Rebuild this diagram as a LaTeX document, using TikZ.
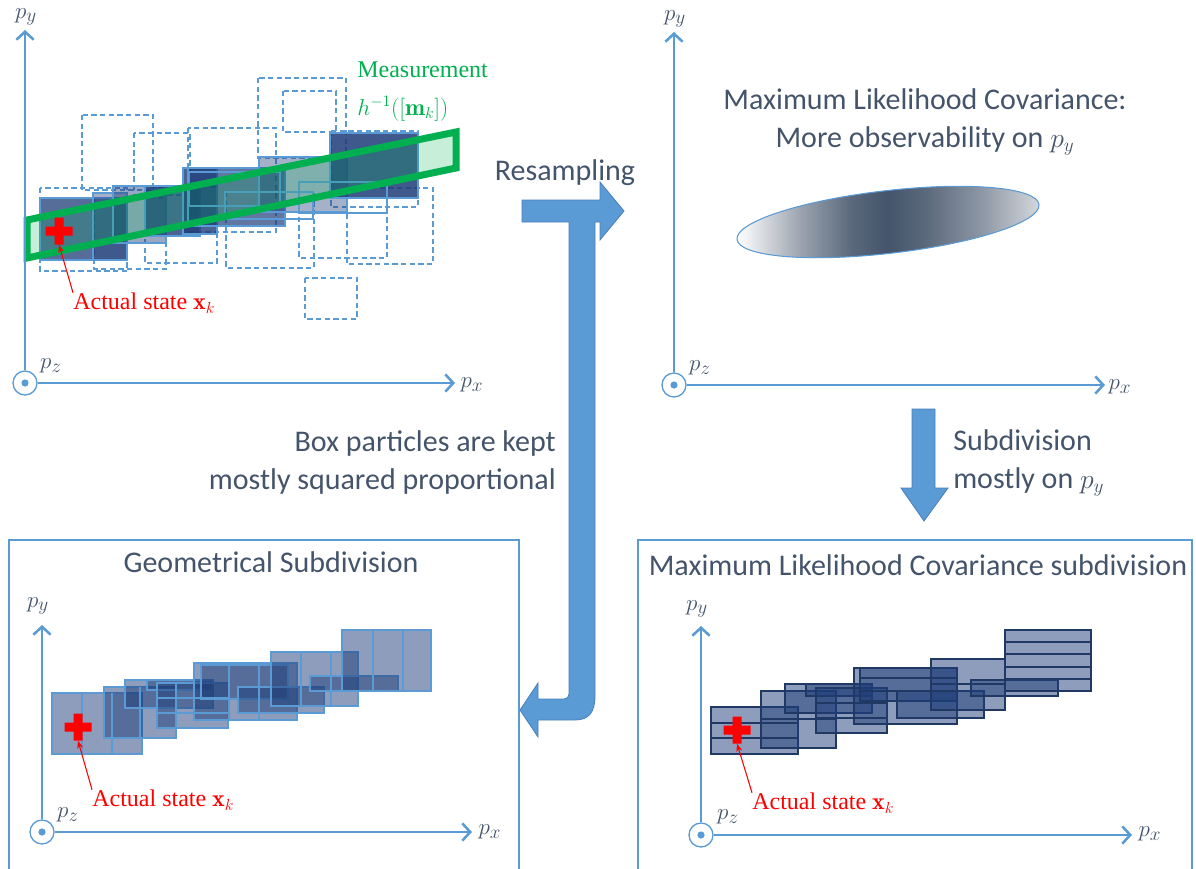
\documentclass[tikz,border=0pt]{standalone}
\usepackage{fontspec}
\setsansfont{Carlito}
\newfontfamily\serifl{Liberation Serif}
\usetikzlibrary{arrows.meta,calc,shapes.geometric}
\definecolor{axisblue}{HTML}{5B9BD5}
\definecolor{arrowedge}{HTML}{4A7EBB}
\definecolor{textgray}{HTML}{44546A}
\definecolor{navy}{RGB}{30,60,120}
\definecolor{boxedge}{RGB}{31,56,100}
\definecolor{mgreen}{HTML}{00B050}
\colorlet{shA}{textgray!8}
\colorlet{shB}{textgray!55}
\colorlet{shC}{textgray!88}
\colorlet{shD}{textgray!62}
\colorlet{shE}{textgray!22}
\pgfdeclarehorizontalshading{ellsh}{100bp}{color(0bp)=(white); color(25bp)=(white); color(27bp)=(shA);
  color(36bp)=(shB); color(44bp)=(shC); color(50bp)=(textgray); color(56bp)=(shC); color(65bp)=(shD);
  color(75bp)=(shE); color(100bp)=(shE)}
\begin{document}
\begin{tikzpicture}[x=0.75pt,y=-0.75pt,
  axis/.style={draw=axisblue,line width=1.9pt,-{Straight Barb[length=6pt,width=13pt]}},
  origin/.style={circle,draw=axisblue,line width=1pt,fill=white,minimum size=18pt,inner sep=0pt,
    path picture={\fill[axisblue] (path picture bounding box.center) circle (2.7pt);}},
  axlab/.style={text=textgray,font=\fontsize{19}{21}\selectfont,inner sep=0pt},
  title/.style={text=textgray,font=\sffamily\fontsize{22.5}{28.5}\selectfont,inner sep=0pt},
  redlab/.style={text=red,font=\serifl\fontsize{18}{20}\selectfont,inner sep=0pt,anchor=west},
  redarrow/.style={draw=red,line width=0.8pt,-{Stealth[length=6pt,width=4.5pt]}},
  crossnode/.style={minimum size=20pt,inner sep=0pt},
  frame/.style={draw=axisblue,line width=0.9pt},
  bigarrow/.style={fill=axisblue,draw=arrowedge,line width=0.6pt},
  dbox/.style={draw=axisblue,line width=0.9pt,dash pattern=on 4pt off 2.5pt},
  tlbox/.style={fill=navy,fill opacity=#1,draw=axisblue,line width=0.9pt},
  obox/.style={draw=axisblue,line width=0.9pt},
  blbox/.style={fill=navy,fill opacity=0.5,draw=axisblue,line width=1pt},
  blline/.style={draw=axisblue,line width=1pt},
  brbox/.style={fill=navy,fill opacity=0.5,draw=boxedge,line width=1.1pt},
  brline/.style={draw=boxedge,line width=1.1pt},
  band/.style={draw=mgreen,line width=5.25pt,fill=mgreen,fill opacity=0.22,line join=miter}
]
\useasboundingbox (0,0) rectangle (1196,868);

% ================= Top-left panel =================
\foreach \a/\b/\c/\d in {258/78/346/158, 283/91/336/132, 331/131/418/207, 347/188/433/264,
  299/182/387/258, 226/192/314/268, 305/278/357/319, 188/128/276/232, 82/115/153/190,
  134/133/190/195, 145/187/217/263, 40/188/127/271, 94/198/166/269}
  \draw[dbox] (\a,\b) rectangle (\c,\d);
\foreach \a/\b/\c/\d/\o in {40/198/127/260/0.75, 93/193/127/260/0.4, 113/186/166/243/0.45,
  145/186/200/236/0.8, 183/168/217/234/0.8, 188/168/285/226/0.7, 259/157/347/212/0.4,
  330/133/418/198/0.85}
  \draw[tlbox=\o] (\a,\b) rectangle (\c,\d);
\foreach \a/\b/\c/\d in {189/172/280/206, 225/192/313/219, 299/182/387/213}
  \draw[obox] (\a,\b) rectangle (\c,\d);
\draw[band] (27,220) -- (456,132) -- (456,168) -- (27,258) -- cycle;

\node[origin] (o1) at (25,383) {};
\coordinate (y1) at (25,30);
\coordinate (x1) at (455,383);
\draw[axis] (o1.north) -- (y1);
\draw[axis] (o1.east) -- (x1);
\node[axlab] (py1) at (26,17) {$p_y$};
\node[axlab] (pz1) at (51,366) {$p_z$};
\node[axlab] (px1) at (472,385) {$p_x$};

\node[crossnode] (c1) at (59,231) {};
\fill[red] (c1.center) ++(-13.5,-4.5) rectangle ++(27,9) (c1.center) ++(-4.5,-13.5) rectangle ++(9,27);
\node[redlab] (l1) at (73,303) {Actual state $\mathbf{x}_k$};
\draw[redarrow] (l1.north west) -- (c1.south);

\node[text=mgreen,font=\serifl\fontsize{18}{28}\selectfont,align=left,anchor=north west,inner sep=0pt] (meas) at (357,62)
  {Measurement\\$h^{-1}([\mathbf{m}_k])$};

% ================= Top-right panel =================
\node[origin] (o2) at (674,385) {};
\coordinate (y2) at (674,32);
\coordinate (x2) at (1105,385);
\draw[axis] (o2.north) -- (y2);
\draw[axis] (o2.east) -- (x2);
\node[axlab] (py2) at (675,19) {$p_y$};
\node[axlab] (pz2) at (700,368) {$p_z$};
\node[axlab] (px2) at (1120,387) {$p_x$};
\node[title,align=center] (tr) at (925,122) {Maximum Likelihood Covariance:\\More observability on $p_y$};
\node[ellipse,minimum width=228pt,minimum height=47pt,rotate=6.6,draw=axisblue,line width=0.8pt,
  shading=ellsh] (ell) at (888,222) {};

% ================= Arrows and middle texts =================
\node[title] (res) at (565,173) {Resampling};
\filldraw[bigarrow] (522,200) -- (600,200) -- (600,182) -- (624,211) -- (600,240) -- (600,222)
  -- (595,222) -- (595,696) .. controls (595,712) and (589,720) .. (575,720) -- (538,720)
  -- (538,737) -- (520,710) -- (538,683) -- (538,699) -- (564,699)
  .. controls (567,699) and (569,697) .. (569,694) -- (569,222) -- (522,222) -- cycle;
\node[title,align=right,anchor=east] (keep) at (556,462) {Box particles are kept\\mostly squared proportional};
\filldraw[bigarrow] (912,409) -- (935,409) -- (935,488) -- (948,488) -- (924,521) -- (901,488) -- (912,488) -- cycle;
\node[title,align=left,anchor=west] (sub) at (953,463) {Subdivision\\mostly on $p_y$};

% ================= Bottom-left panel =================
\draw[frame] (9,540) rectangle (519,872);
\node[title] (gs) at (271,562) {Geometrical Subdivision};
\foreach \a/\b/\c/\d in {52/693/142/754, 104/687/176/738, 125/680/213/708, 147/680/213/690,
  157/683/228/728, 194/663/297/720, 201/665/288/699, 238/687/324/713, 271/652/358/706,
  310/676/398/691, 342/630/431/691}
  \draw[blbox] (\a,\b) rectangle (\c,\d);
\foreach \x/\b/\d in {82/693/754, 112/693/754, 140/687/738, 176/683/728, 229/663/720, 259/663/720,
  301/652/706, 331/652/706, 373/630/691, 403/630/691}
  \draw[blline] (\x,\b) -- (\x,\d);
\foreach \y in {698,713} \draw[blline] (157,\y) -- (228,\y);
\node[origin] (o3) at (42,832) {};
\coordinate (y3) at (42,625);
\coordinate (x3) at (472,832);
\draw[axis] (o3.north) -- (y3);
\draw[axis] (o3.east) -- (x3);
\node[axlab] (py3) at (38,606) {$p_y$};
\node[axlab] (pz3) at (68,815) {$p_z$};
\node[axlab] (px3) at (490,832) {$p_x$};
\node[crossnode] (c3) at (78,727) {};
\fill[red] (c3.center) ++(-13.5,-4.5) rectangle ++(27,9) (c3.center) ++(-4.5,-13.5) rectangle ++(9,27);
\node[redlab] (l3) at (92,800) {Actual state $\mathbf{x}_k$};
\draw[redarrow] (l3.north west) -- (c3.south);

% ================= Bottom-right panel =================
\draw[frame] (638,540) rectangle (1192,872);
\node[title] (mlc) at (918,565) {Maximum Likelihood Covariance subdivision};
\foreach \a/\b/\c/\d in {711/707/798/754, 761/691/836/748, 785/684/872/713, 806/684/872/696,
  816/688/887/733, 854/668/957/724, 860/668/957/701, 897/691/984/718, 931/659/1005/710,
  971/680/1058/696, 1005/630/1091/691}
  \draw[brbox] (\a,\b) rectangle (\c,\d);
\foreach \a/\c/\y in {711/798/723, 711/798/738, 761/836/719, 816/887/703, 816/887/718,
  860/957/678, 860/957/691, 931/1005/684, 1005/1091/642, 1005/1091/654, 1005/1091/667, 1005/1091/679}
  \draw[brline] (\a,\y) -- (\c,\y);
\node[origin] (o4) at (701,835) {};
\coordinate (y4) at (701,626);
\coordinate (x4) at (1132,835);
\draw[axis] (o4.north) -- (y4);
\draw[axis] (o4.east) -- (x4);
\node[axlab] (py4) at (697,609) {$p_y$};
\node[axlab] (pz4) at (728,817) {$p_z$};
\node[axlab] (px4) at (1150,834) {$p_x$};
\node[crossnode] (c4) at (737,730) {};
\fill[red] (c4.center) ++(-13.5,-4.5) rectangle ++(27,9) (c4.center) ++(-4.5,-13.5) rectangle ++(9,27);
\node[redlab] (l4) at (752,803) {Actual state $\mathbf{x}_k$};
\draw[redarrow] (l4.north west) -- (c4.south);
\end{tikzpicture}
\end{document}
